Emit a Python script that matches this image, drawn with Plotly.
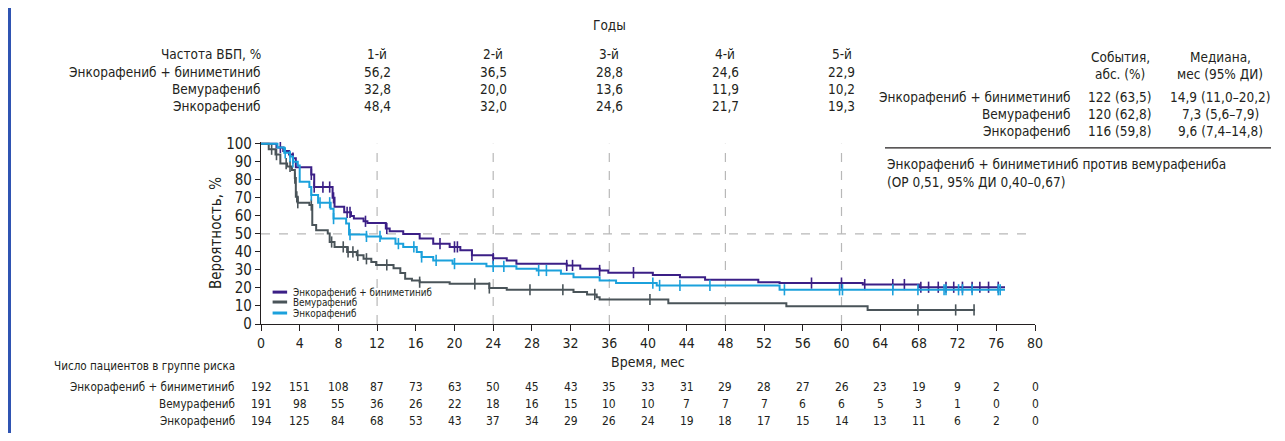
import plotly.graph_objects as go

# ---------------- data ----------------
arms = ["Энкорафениб + биниметиниб", "Вемурафениб", "Энкорафениб"]
colors = ["#3b1f86", "#4a5459", "#1ba1dc"]

# Kaplan-Meier step breakpoints (months, % PFS)
t_combo = [0, 1.6, 2.3, 2.9, 3.3, 3.6, 5.2, 5.5, 7.4, 7.6, 8.6, 9.3, 9.6, 10.6, 11.0, 12.9, 13.3,
           14.7, 16.4, 17.8, 19.5, 20.6, 21.8, 24.0, 25.4, 26.4, 31.6, 33.0, 35.0, 35.9, 40.5,
           43.3, 45.9, 51.4, 53.6, 62.2, 68.0, 76.9]
s_combo = [100, 98, 96, 94, 92, 87, 83, 76, 70, 65, 62, 60, 58.5, 57, 56, 53, 51.5,
           50, 47.5, 44.6, 42.8, 40.9, 38.1, 36.5, 35.3, 33.5, 32.5, 30.7, 29.7, 28.5, 27.2,
           26, 24.5, 23.2, 22.7, 21.9, 20.4, 20.4]

t_vem = [0, 0.8, 1.5, 2.0, 2.7, 3.2, 3.5, 3.6, 3.8, 5.0, 5.3, 5.7, 6.9, 7.1, 7.6, 8.9, 9.9,
         10.6, 11.4, 11.9, 13.7, 14.4, 14.9, 15.6, 16.4, 19.5, 23.6, 25.4, 32.3, 33.7, 34.7, 35.0,
         42.1, 54.3, 62.7, 73.8]
s_vem = [100, 97, 94, 89, 87.4, 85.5, 81, 70.6, 67.3, 66, 55, 52, 50.2, 45.5, 42.8, 40, 38.1,
         36.2, 34.4, 32.8, 31, 28.3, 25.1, 24.2, 23.2, 22.3, 20.0, 19, 17.7, 16.4, 14.9, 13.6,
         11.5, 9.9, 7.8, 7.8]

t_enco = [0, 1.7, 2.4, 3.0, 3.3, 3.8, 4.0, 5.0, 5.2, 5.9, 7.2, 7.5, 8.8, 9.1, 10.9, 12.4,
          13.9, 14.7, 16.1, 16.6, 17.8, 19.8, 23.3, 26.4, 28.5, 31.0, 32.3, 35.0, 36.7, 40.9,
          53.6, 76.9]
s_enco = [100, 98, 95, 93, 90, 88, 79, 76, 71.6, 67.3, 64, 58.5, 55.8, 49.6, 48.6, 47.4,
          44.6, 42.8, 40, 37.2, 35.3, 33.5, 32.0, 30.7, 29.7, 27.9, 26, 24.2, 22.7, 21.4,
          19.0, 19.0]

# censoring times (months)
c_combo = [2.0, 3.3, 5.2, 5.5, 6.4, 7.1, 7.5, 8.9, 9.2, 10.8, 13.0, 18.5, 20.0, 20.3, 21.8, 24.0,
           31.6, 32.2, 35.0, 38.5, 56.9, 60.0, 62.4, 65.3, 66.5, 68.2, 69.0, 70.0, 70.8, 71.6,
           72.5, 73.5, 74.3, 75.2, 76.2]
c_vem = [1.1, 1.6, 2.6, 3.0, 3.5, 3.7, 3.8, 5.2, 7.3, 8.5, 9.0, 9.5, 10.0, 10.9, 13.0, 16.4,
         22.1, 23.6, 27.8, 31.2, 34.5, 40.2, 67.9, 71.8, 73.7]
c_enco = [2.5, 3.0, 3.3, 5.2, 6.1, 7.1, 7.5, 9.2, 10.9, 12.3, 14.2, 15.8, 16.6, 18.1, 20.0, 24.0,
          25.1, 28.7, 29.5, 40.5, 41.2, 43.3, 46.4, 54.1, 59.8, 60.1, 65.3, 67.9, 70.6, 70.8,
          72.1, 72.5, 73.5, 76.2, 76.4]

# landmark PFS table
years = ["1-й", "2-й", "3-й", "4-й", "5-й"]
year_months = [12, 24, 36, 48, 60]
pfs_combo = ["56,2", "36,5", "28,8", "24,6", "22,9"]
pfs_vem = ["32,8", "20,0", "13,6", "11,9", "10,2"]
pfs_enco = ["48,4", "32,0", "24,6", "21,7", "19,3"]

# events / medians
events = ["122 (63,5)", "120 (62,8)", "116 (59,8)"]
medians = ["14,9 (11,0–20,2)", "7,3 (5,6–7,9)", "9,6 (7,4–14,8)"]

# numbers at risk
risk_months = list(range(0, 81, 4))
risk_combo = [192, 151, 108, 87, 73, 63, 50, 45, 43, 35, 33, 31, 29, 28, 27, 26, 23, 19, 9, 2, 0]
risk_vem = [191, 98, 55, 36, 26, 22, 18, 16, 15, 10, 10, 7, 7, 7, 6, 6, 5, 3, 1, 0, 0]
risk_enco = [194, 125, 84, 68, 53, 43, 37, 34, 29, 26, 24, 19, 18, 17, 15, 14, 13, 11, 6, 2, 0]

# ---------------- figure ----------------
FONT = "DejaVu Sans Condensed, Liberation Sans Narrow, Roboto, sans-serif"
TXT = "#231f20"
OFF = 8                      # page offset of the plot div (body margin)
W, H = 1285 - 2 * OFF, 441 - 2 * OFF
# plot area in page pixels
L, R_PX, T_PX, B_PX = 261, 1035, 142.2, 324

def px_x(px):
    return (px - L) / (R_PX - L)

def px_y(py):
    return (B_PX - py) / (B_PX - T_PX)

def step_at(t, ts, ss):
    val = ss[0]
    for ti, si in zip(ts, ss):
        if ti <= t:
            val = si
        else:
            break
    return val

fig = go.Figure()
series = [(t_combo, s_combo, c_combo), (t_vem, s_vem, c_vem), (t_enco, s_enco, c_enco)]
for name, col, (ts, ss, cs) in zip(arms, colors, series):
    fig.add_trace(go.Scatter(x=ts, y=ss, mode="lines", line=dict(color=col, width=2, shape="hv"),
                             name=name, showlegend=False, hoverinfo="skip"))
    fig.add_trace(go.Scatter(x=cs, y=[step_at(c, ts, ss) for c in cs], mode="markers",
                             marker=dict(symbol="line-ns", size=8, line=dict(color=col, width=1.6)),
                             showlegend=False, hoverinfo="skip"))

shapes = []
# dashed reference lines
for m in year_months:
    shapes.append(dict(type="line", xref="x", yref="y", x0=m, x1=m, y0=0, y1=100,
                       line=dict(color="#b8b8b8", width=1.2, dash="dash"), layer="below"))
shapes.append(dict(type="line", xref="x", yref="y", x0=0, x1=80, y0=50, y1=50,
                   line=dict(color="#b8b8b8", width=1.2, dash="dash"), layer="below"))
# left blue border
shapes.append(dict(type="line", xref="paper", yref="paper", x0=px_x(OFF + 1.5), x1=px_x(OFF + 1.5),
                   y0=px_y(441), y1=px_y(0), line=dict(color="#2f54b2", width=3)))
# separator line in right table
shapes.append(dict(type="line", xref="paper", yref="paper", x0=px_x(885), x1=px_x(1271),
                   y0=px_y(148), y1=px_y(148), line=dict(color=TXT, width=1.2)))

ann = []
def text(x, y, s, size=13.5, xanchor="center", xref="paper"):
    ann.append(dict(x=x, y=y, xref=xref, yref="paper", text=s, showarrow=False,
                    xanchor=xanchor, yanchor="middle", font=dict(family=FONT, size=size, color=TXT)))

# top landmark table
text(36, px_y(25), "Годы", xref="x")
row_y = [54, 72, 89, 106]
text(px_x(263), px_y(row_y[0]), "Частота ВБП, %", xanchor="right")
for m, yl in zip(year_months, years):
    text(m, px_y(row_y[0]), yl, xref="x")
for arm, vals, yy in zip(arms, [pfs_combo, pfs_vem, pfs_enco], row_y[1:]):
    text(px_x(263), px_y(yy), arm, xanchor="right")
    for m, v in zip(year_months, vals):
        text(m, px_y(yy), v, xref="x")

# right table
text(px_x(1120), px_y(57), "События,")
text(px_x(1120), px_y(74), "абс. (%)")
text(px_x(1220), px_y(57), "Медиана,")
text(px_x(1220), px_y(74), "мес (95% ДИ)")
for arm, ev, md, yy in zip(arms, events, medians, [97, 114, 131]):
    text(px_x(1073), px_y(yy), arm, xanchor="right")
    text(px_x(1120), px_y(yy), ev)
    text(px_x(1220), px_y(yy), md)
text(px_x(885), px_y(164), "Энкорафениб + биниметиниб против вемурафениба", xanchor="left")
text(px_x(885), px_y(182), "(ОР 0,51, 95% ДИ 0,40–0,67)", xanchor="left")

# legend (manual, compact)
for arm, col, yv in zip(arms, colors, [17.7, 12.2, 6.1]):
    shapes.append(dict(type="line", xref="x", yref="y", x0=1.2, x1=2.7, y0=yv, y1=yv,
                       line=dict(color=col, width=3)))
    ann.append(dict(x=3.1, y=yv, xref="x", yref="y", text=arm, showarrow=False, xanchor="left",
                    yanchor="middle", font=dict(family=FONT, size=9.8, color=TXT)))

# x-axis title
text(40, px_y(362), "Время, мес", size=14, xref="x")

# risk table
text(px_x(237), px_y(366), "Число пациентов в группе риска", size=11.6, xanchor="right")
for arm, vals, yy in zip(arms, [risk_combo, risk_vem, risk_enco], [387, 404, 421]):
    text(px_x(237), px_y(yy), arm, size=11.6, xanchor="right")
    for m, v in zip(risk_months, vals):
        text(m, px_y(yy), str(v), size=12, xref="x")

fig.update_layout(
    width=W, height=H,
    margin=dict(l=L - OFF, r=W - (R_PX - OFF), t=T_PX - OFF, b=H - (B_PX - OFF), pad=0),
    paper_bgcolor="white", plot_bgcolor="white",
    shapes=shapes, annotations=ann,
    font=dict(family=FONT, color=TXT),
    xaxis=dict(range=[0, 80], dtick=4, tick0=0, showline=True, linecolor=TXT, linewidth=1.2,
               ticks="outside", ticklen=6, tickcolor=TXT, showgrid=False, zeroline=False,
               automargin=False, tickfont=dict(family=FONT, size=14, color=TXT)),
    yaxis=dict(range=[0, 101], dtick=10, tick0=0, showline=True, linecolor=TXT, linewidth=1.2,
               ticks="outside", ticklen=5, tickcolor=TXT, showgrid=False, zeroline=False,
               automargin=False, tickfont=dict(family=FONT, size=15, color=TXT),
               title=dict(text="Вероятность, %", font=dict(family=FONT, size=15, color=TXT), standoff=0)),
)

fig.write_html("out.html")
